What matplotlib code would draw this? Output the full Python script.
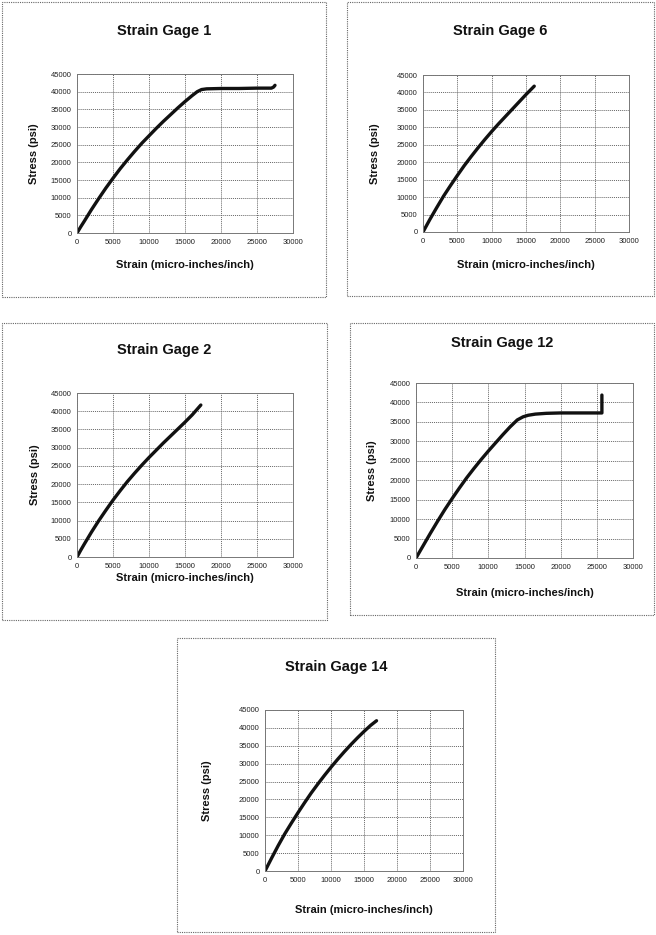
import numpy as np
import matplotlib.pyplot as plt
from matplotlib.patches import Rectangle

plt.rcParams['font.family'] = ['Liberation Sans', 'DejaVu Sans']

W, H = 656, 935

# data (strain in micro-inches/inch, stress in psi)
gage1_strain = [0, 500, 1000, 2000, 3000, 4000, 5000, 6000, 7000, 8000, 9000, 10000, 11000, 12000,
                13000, 14000, 15000, 16000, 16700, 17300, 18000, 20000, 22500, 25000, 27000, 27300, 27500]
gage1_stress = [0, 1700, 3300, 6600, 9700, 12700, 15500, 18200, 20700, 23100, 25400, 27500, 29600, 31600,
                33500, 35400, 37200, 38900, 40000, 40600, 40800, 40900, 40900, 41000, 41000, 41300, 41800]

gage6_strain = [0, 500, 1000, 2000, 3000, 4000, 5000, 6000, 7000, 8000, 9000, 10000, 11000, 12000,
                13000, 14000, 15000, 16200]
gage6_stress = [0, 1800, 3600, 7000, 10300, 13300, 16200, 19000, 21600, 24100, 26500, 28800, 31000, 33100,
                35200, 37300, 39400, 41800]

gage2_strain = [0, 500, 1000, 2000, 3000, 4000, 5000, 6000, 7000, 8000, 9000, 10000, 11000, 12000,
                13000, 14000, 15000, 16000, 17200]
gage2_stress = [0, 1800, 3500, 6800, 9900, 12800, 15600, 18200, 20700, 23000, 25200, 27300, 29300, 31300,
                33200, 35100, 37000, 39000, 41700]

gage12_strain = [0, 500, 1000, 2000, 3000, 4000, 5000, 6000, 7000, 8000, 9000, 10000, 11000, 12000,
                 13000, 14000, 14800, 15500, 16500, 18000, 20000, 25700, 25700]
gage12_stress = [0, 1600, 3200, 6400, 9500, 12500, 15300, 18000, 20600, 23000, 25300, 27500, 29600, 31700,
                 33700, 35500, 36300, 36700, 37000, 37200, 37300, 37300, 41900]

gage14_strain = [0, 500, 1000, 2000, 3000, 4000, 5000, 6000, 7000, 8000, 9000, 10000, 11000, 12000,
                 13000, 14000, 15000, 16000, 16900]
gage14_stress = [0, 1800, 3600, 7100, 10400, 13400, 16300, 19100, 21800, 24300, 26700, 29000, 31200, 33300,
                 35300, 37200, 39000, 40700, 42000]

titles = ["Strain Gage 1", "Strain Gage 6", "Strain Gage 2", "Strain Gage 12", "Strain Gage 14"]
series = [(gage1_strain, gage1_stress), (gage6_strain, gage6_stress),
          (gage2_strain, gage2_stress), (gage12_strain, gage12_stress),
          (gage14_strain, gage14_stress)]

# layout in pixels: box (l, t, r, b), plot area (l, t, r, b), title y, xlabel y, ylabel x
layout = [
    ((2, 2, 326, 297), (77, 74, 293, 233), 31, 265, 34),
    ((347, 2, 654, 296), (423, 75, 629, 232), 31, 265, 375),
    ((2, 323, 327, 620), (77, 393, 293, 557), 350, 578, 35),
    ((350, 323, 654, 615), (416, 383, 633, 558), 343, 593, 372),
    ((177, 638, 495, 932), (265, 710, 463, 871), 667, 910, 207),
]

fig = plt.figure(figsize=(W / 100, H / 100), dpi=100)
fig.patch.set_facecolor("white")

for title, (xs, ys), (box, pa, ty, xly, ylx) in zip(titles, series, layout):
    # dotted chart border
    fig.patches.append(Rectangle((box[0] / W, 1 - box[3] / H), (box[2] - box[0]) / W,
                                 (box[3] - box[1]) / H, transform=fig.transFigure,
                                 fill=False, edgecolor="#666666", linewidth=0.8,
                                 linestyle=(0, (1, 1))))
    ax = fig.add_axes([pa[0] / W, 1 - pa[3] / H, (pa[2] - pa[0]) / W, (pa[3] - pa[1]) / H])
    ax.plot(xs, ys, color="#111111", linewidth=2.4, solid_capstyle="round", solid_joinstyle="round")
    ax.set_xlim(0, 30000)
    ax.set_ylim(0, 45000)
    ax.set_xticks(np.arange(0, 30001, 5000))
    ax.set_yticks(np.arange(0, 45001, 5000))
    ax.tick_params(labelsize=5.5, length=0, pad=4, colors="#222222")
    ax.grid(True, color="#666666", linestyle=(0, (1, 1)), linewidth=0.7)
    for s in ax.spines.values():
        s.set_color("#777777")
        s.set_linewidth(0.7)
    cx = (pa[0] + pa[2]) / 2
    fig.text((box[0] + box[2]) / 2 / W, 1 - ty / H, title, ha="center", va="center",
             fontsize=10.5, fontweight="bold", color="#111111")
    fig.text(cx / W, 1 - xly / H, "Strain (micro-inches/inch)", ha="center", va="center",
             fontsize=8, fontweight="bold", color="#111111")
    fig.text(ylx / W, 1 - (pa[1] + pa[3]) / 2 / H, "Stress (psi)", ha="center", va="center",
             fontsize=8, fontweight="bold", rotation=90, color="#111111")

fig.savefig("out.png", dpi=100)
